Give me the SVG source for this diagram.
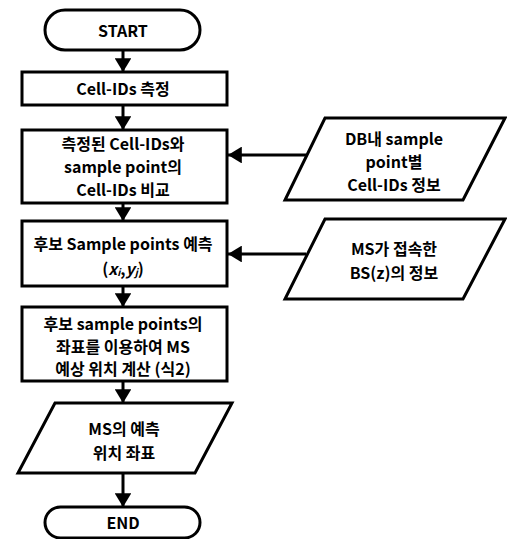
<svg xmlns="http://www.w3.org/2000/svg" width="507" height="539" viewBox="0 0 507 539">
<defs>
<marker id="ah" markerWidth="4.6" markerHeight="5.6" refX="4.6" refY="2.8" orient="auto" markerUnits="strokeWidth"><path d="M0,0 L4.6,2.8 L0,5.6 Z" fill="#000"/></marker>
</defs>
<style>
.s{fill:#fff;stroke:#000;stroke-width:3}
.t{font-family:"Noto Sans CJK KR","Malgun Gothic",sans-serif;font-weight:bold;font-size:16px;text-anchor:middle;dominant-baseline:central;fill:#000}
.c{stroke:#000;stroke-width:3;fill:none;marker-end:url(#ah)}
</style>
<rect width="507" height="539" fill="#fff"/>
<g id="connectors">
<line class="c" x1="123" y1="50" x2="123" y2="72"/>
<line class="c" x1="123" y1="105" x2="123" y2="130"/>
<line class="c" x1="123" y1="203" x2="123" y2="221"/>
<line class="c" x1="123" y1="286" x2="123" y2="307"/>
<line class="c" x1="123" y1="381" x2="123" y2="403"/>
<line class="c" x1="123" y1="473" x2="123" y2="507"/>
<line class="c" x1="306" y1="155" x2="228" y2="155"/>
<line class="c" x1="306" y1="254" x2="228" y2="254"/>
</g>
<g id="start">
<rect class="s" x="45" y="10" width="155" height="40" rx="20"/>
<text class="t" x="123" y="30">START</text>
</g>
<g id="measure">
<rect class="s" x="22" y="72" width="205" height="33"/>
<text class="t" x="123" y="88">Cell-IDs 측정</text>
</g>
<g id="compare">
<rect class="s" x="22" y="130" width="205" height="73"/>
<text class="t" x="123" y="143">측정된 Cell-IDs와</text>
<text class="t" x="123" y="166">sample point의</text>
<text class="t" x="123" y="189">Cell-IDs 비교</text>
</g>
<g id="predict">
<rect class="s" x="22" y="221" width="205" height="65"/>
<text class="t" x="123" y="243">후보 Sample points 예측</text>
<text class="t" x="123" y="268">(<tspan font-style="italic">x</tspan><tspan font-style="italic" font-size="10" dy="3">i</tspan><tspan dy="-3">,</tspan><tspan font-style="italic">y</tspan><tspan font-style="italic" font-size="10" dy="3">j</tspan><tspan dy="-3">)</tspan></text>
</g>
<g id="calc">
<rect class="s" x="22" y="307" width="205" height="74"/>
<text class="t" x="123" y="323">후보 sample points의</text>
<text class="t" x="123" y="346">좌표를 이용하여 MS</text>
<text class="t" x="123" y="368">예상 위치 계산 (식2)</text>
</g>
<g id="result">
<polygon class="s" points="55,403 232,403 195,473 18,473"/>
<text class="t" x="124" y="428">MS의 예측</text>
<text class="t" x="124" y="452">위치 좌표</text>
</g>
<g id="end">
<rect class="s" x="45" y="507" width="155" height="31" rx="15.5"/>
<text class="t" x="123" y="522">END</text>
</g>
<g id="db">
<polygon class="s" points="325,118 505,118 463,200 285,200"/>
<text class="t" x="394" y="138">DB내 sample</text>
<text class="t" x="394" y="161">point별</text>
<text class="t" x="394" y="184">Cell-IDs 정보</text>
</g>
<g id="bs">
<polygon class="s" points="325,219 505,219 463,299 285,299"/>
<text class="t" x="394" y="248">MS가 접속한</text>
<text class="t" x="394" y="272">BS(z)의 정보</text>
</g>
</svg>
